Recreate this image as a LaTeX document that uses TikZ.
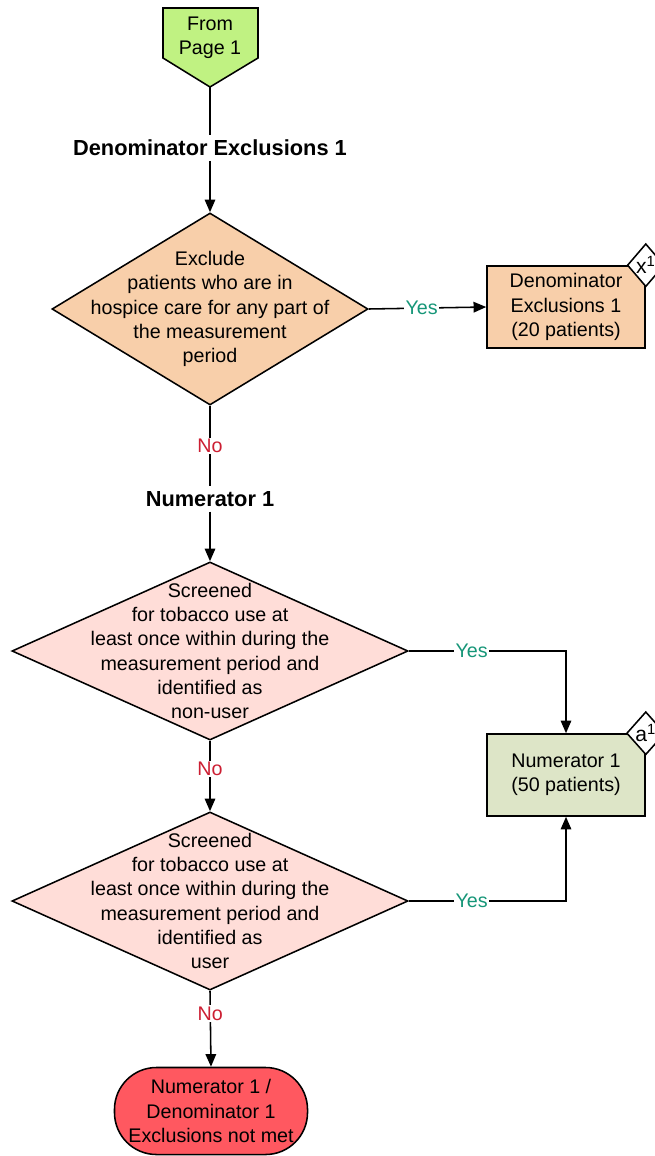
\documentclass[tikz,border=0pt]{standalone}
\usepackage{fontspec}
\setmainfont{Liberation Sans}
\usetikzlibrary{shapes.geometric,arrows.meta}
\definecolor{startgreen}{RGB}{192,242,130}
\definecolor{excpeach}{RGB}{248,207,170}
\definecolor{scrpink}{RGB}{255,221,216}
\definecolor{numgreen}{RGB}{221,229,199}
\definecolor{endred}{RGB}{255,88,96}
\definecolor{yesgreen}{RGB}{22,150,120}
\definecolor{nored}{RGB}{204,30,50}
\begin{document}
\begin{tikzpicture}[x=0.025cm,y=-0.025cm,
        font=\fontsize{14}{17.2}\selectfont,
        line/.style={line width=1.1pt},
        arr/.style={line width=1.1pt,-{Triangle[length=9pt,width=7.5pt]}},
        dia/.style={diamond,draw,line width=1.1pt,inner sep=0pt},
        box/.style={rectangle,draw,line width=1.1pt,minimum width=3.95cm,minimum height=2.05cm,align=center},
        tagbox/.style={diamond,draw,line width=1.1pt,fill=white,inner sep=0pt,minimum width=0.9cm,minimum height=1.075cm,font=\fontsize{15}{17}\selectfont},
        heading/.style={font=\fontsize{15.5}{17}\selectfont\bfseries},
        yes/.style={fill=white,text=yesgreen,inner sep=1pt},
        no/.style={fill=white,text=nored,inner sep=1pt}]
        \useasboundingbox (0,0) rectangle (655,1156);
        % off-page connector
        \draw[line,fill=startgreen] (163,8) -- (258,8) -- (258,58) -- (210,87) -- (163,58) -- cycle;
        \coordinate (fromtip) at (210,87);
        \node[align=center] (from) at (210,38) {From\\Page 1};
        \node[heading] (h1) at (210,148) {Denominator Exclusions 1};
        \node[dia,fill=excpeach,minimum width=7.9cm,minimum height=4.8cm] (d1) at (210,309) {};
        \node[align=center] (d1t) at (d1) {Exclude\\patients who are in\\hospice care for any part of\\the measurement\\period};
        \node[box,fill=excpeach] (ex1) at (566,307) {Denominator\\Exclusions 1\\(20 patients)};
        \node[tagbox] (xtag) at (ex1.north east) {x\textsuperscript{1}};
        \node[heading] (h2) at (210,499) {Numerator 1};
        \node[dia,fill=scrpink,minimum width=9.9cm,minimum height=4.45cm] (d2) at (210,651) {};
        \node[align=center] (d2t) at (d2) {Screened\\for tobacco use at\\least once within during the\\measurement period and\\identified as\\non-user};
        \node[box,fill=numgreen] (num) at (566,775) {Numerator 1\\(50 patients)};
        \node[tagbox] (atag) at (num.north east) {a\textsuperscript{1}};
        \node[dia,fill=scrpink,minimum width=9.9cm,minimum height=4.45cm] (d3) at (210,901) {};
        \node[align=center] (d3t) at (d3) {Screened\\for tobacco use at\\least once within during the\\measurement period and\\identified as\\user};
        \node[draw,line width=1.1pt,fill=endred,rounded corners=1.05cm,minimum width=4.825cm,minimum height=2.175cm,align=center] (stop) at (211,1111) {Numerator 1 /\\Denominator 1\\Exclusions not met};
        \draw[line] (fromtip) -- (h1);
        \draw[arr] (h1) -- (d1.north);
        \draw[arr] (d1.east) -- node[yes,pos=0.45] {Yes} (ex1.west);
        \draw[line] (d1.south) -- node[no] {No} (h2);
        \draw[arr] (h2) -- (d2.north);
        \draw[arr] (d2.east) -| node[yes,pos=0.2] {Yes} (num.north);
        \draw[arr] (d2.south) -- node[no,pos=0.4] {No} (d3.north);
        \draw[arr] (d3.east) -| node[yes,pos=0.2] {Yes} (num.south);
        \draw[arr] (d3.south) -- node[no,pos=0.3] {No} (stop.north);
    \end{tikzpicture}
\end{document}
